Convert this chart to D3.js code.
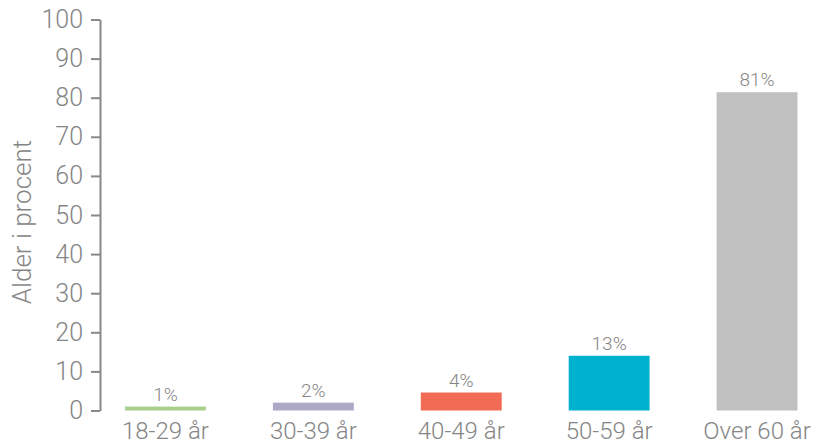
<!DOCTYPE html>
<html><head><meta charset="utf-8">
<script src="https://cdn.jsdelivr.net/npm/d3@7"></script>
<style>
html,body{margin:0;padding:0;background:#fff;}
svg{display:block;font-family:"Roboto",sans-serif;font-weight:300;}
</style></head>
<body>
<svg id="c" width="824" height="446"></svg>
<script>
const categories = ["18-29 år","30-39 år","40-49 år","50-59 år","Over 60 år"];
const values = [1, 2, 4.6, 14, 81.4];
const valueLabels = ["1%","2%","4%","13%","81%"];
const colors = ["#a8d08d","#aca8c6","#f26b55","#00b2d0","#c0c0c0"];
const yTicks = [0,10,20,30,40,50,60,70,80,90,100];
const yTitle = "Alder i procent";

const svg = d3.select("#c");
const textColor = "#858585";
const y = d3.scaleLinear().domain([0,100]).range([410.5,19.5]);
const x = d3.scaleBand().domain(categories).range([100,822.5]).paddingInner(0.453).paddingOuter(0.169);

const data = categories.map((c,i)=>({c, v:values[i], l:valueLabels[i], col:colors[i]}));

svg.selectAll("rect.bar").data(data).join("rect")
  .attr("class","bar")
  .attr("x",d=>x(d.c)).attr("width",x.bandwidth())
  .attr("y",d=>y(d.v)).attr("height",d=>y(0)-y(d.v))
  .attr("fill",d=>d.col);

svg.selectAll("text.val").data(data).join("text")
  .attr("class","val")
  .attr("x",d=>x(d.c)+x.bandwidth()/2)
  .attr("y",d=>y(d.v)-6)
  .attr("text-anchor","middle")
  .attr("font-size",19)
  .attr("fill",textColor)
  .text(d=>d.l);

const yAxis = d3.axisLeft(y).tickValues(yTicks).tickSize(9).tickPadding(8).tickSizeOuter(0);
const ga = svg.append("g").attr("transform","translate(100,0)").call(yAxis);
ga.select(".domain").attr("stroke","#888").attr("stroke-width",2);
ga.selectAll(".tick line").attr("stroke","#888").attr("stroke-width",2);
ga.selectAll(".tick text").attr("fill",textColor).attr("font-size",25).attr("font-family","Roboto").attr("font-weight",300);

const xAxis = d3.axisBottom(x).tickSize(0).tickPadding(11);
const gx = svg.append("g").attr("transform","translate(0,411)").call(xAxis);
gx.select(".domain").remove();
gx.selectAll(".tick text").attr("fill",textColor).attr("font-size",24).attr("font-family","Roboto").attr("font-weight",300);

svg.append("text")
  .attr("transform","translate(31,222) rotate(-90)")
  .attr("text-anchor","middle")
  .attr("font-size",26)
  .attr("fill",textColor)
  .text(yTitle);
</script>
</body></html>
